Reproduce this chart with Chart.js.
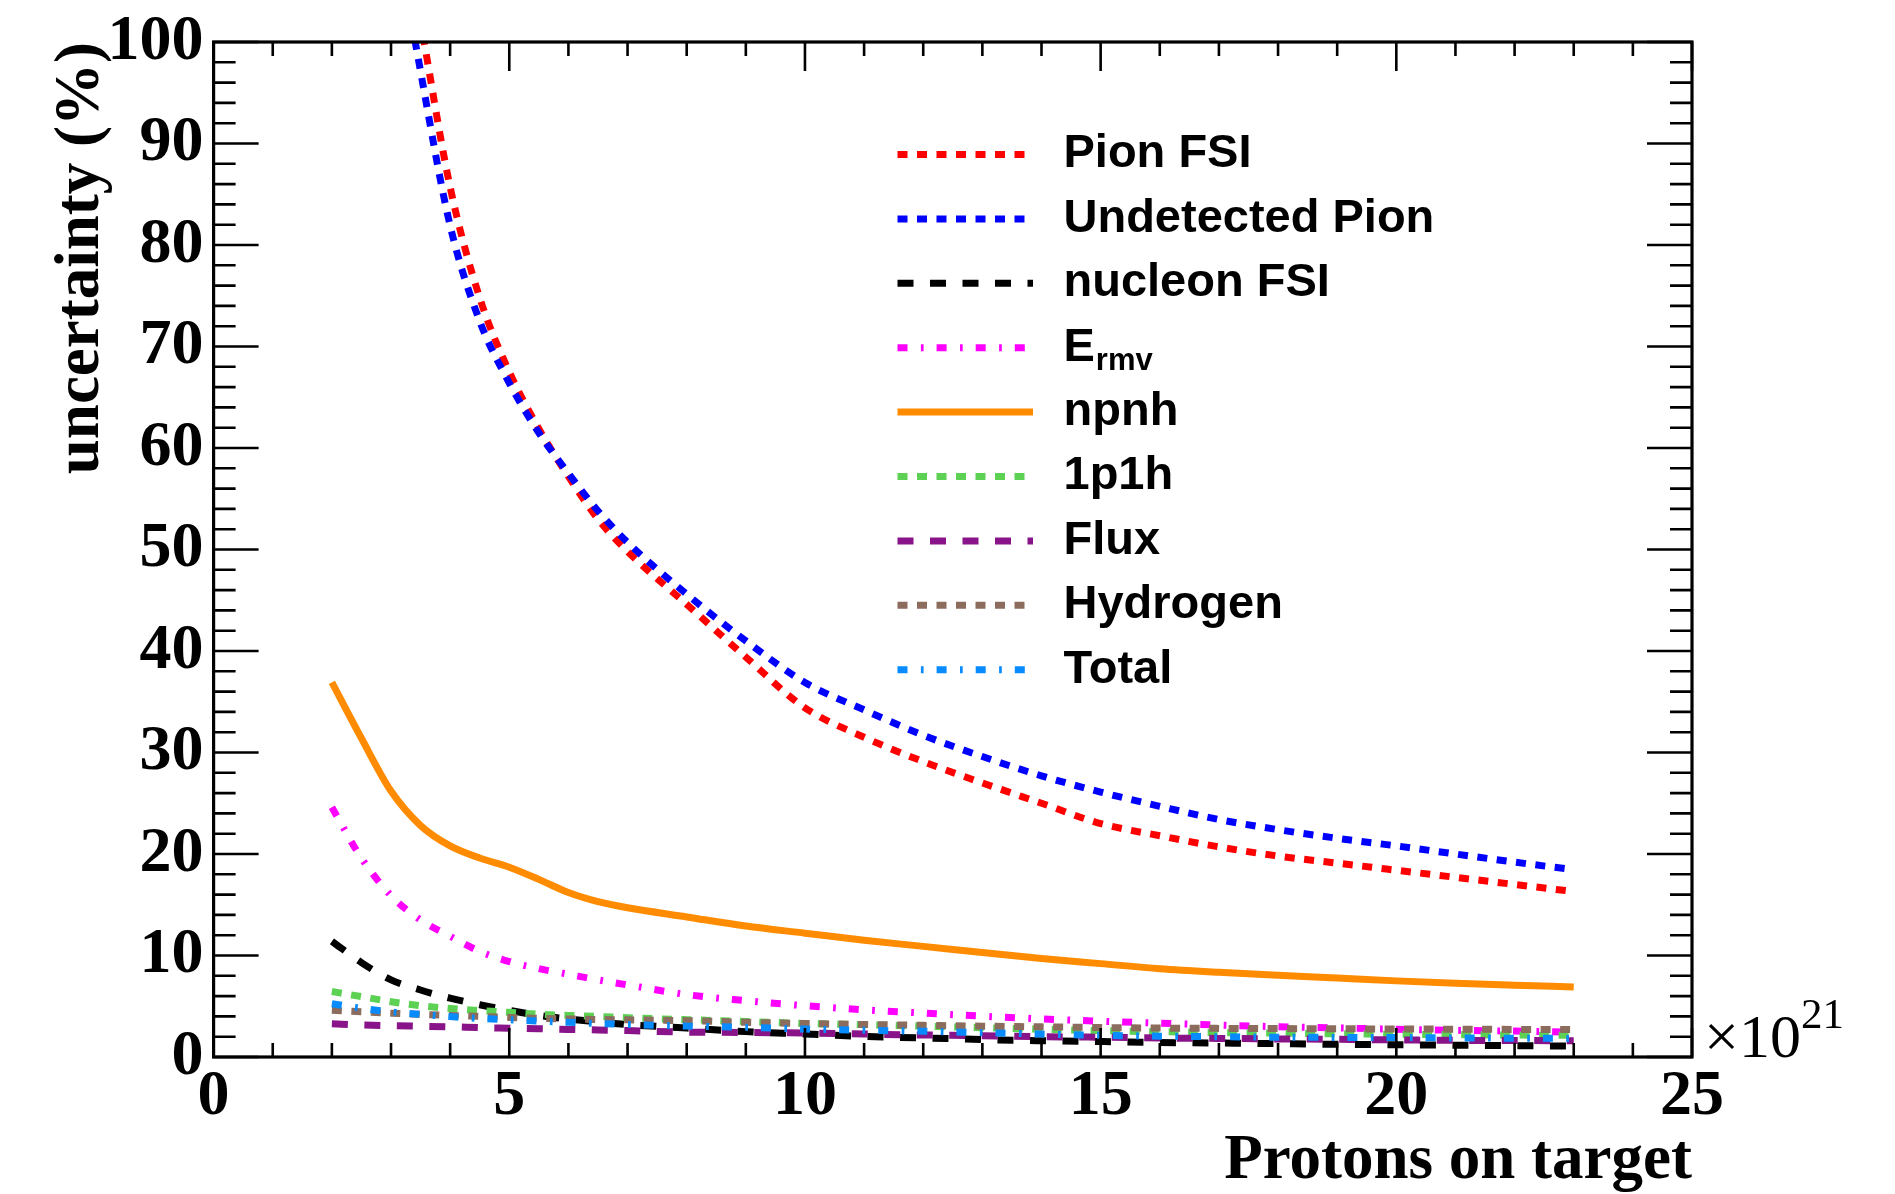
<!DOCTYPE html>
<html>
<head>
<meta charset="utf-8">
<title>Uncertainty vs protons on target</title>
<script src="https://cdn.jsdelivr.net/npm/chart.js@4.4.1/dist/chart.umd.min.js"></script>
<style>
  html, body { margin: 0; padding: 0; background: #fff; }
  #wrap { width: 1895px; height: 1194px; }
</style>
</head>
<body>
<div id="wrap"><canvas id="c" width="1895" height="1194"></canvas></div>
<script>
// Exposure in units of 1e21 protons on target
const pot = [2, 2.5, 3, 3.5, 4, 4.5, 5, 5.5, 6, 6.5, 7, 8, 9, 10, 11, 12, 13, 14, 15, 16, 17, 18, 19, 20, 21, 22, 23];

// Relative uncertainty (%) for each systematic source
const pionFSI        = [175, 142, 118, 102, 85.7, 74.8, 67.5, 61.9, 57.2, 53.0, 49.8, 44.6, 39.4, 34.4, 31.5, 29.1, 27.0, 25.0, 23.0, 21.8, 20.7, 19.8, 19.1, 18.4, 17.7, 17.0, 16.3];
const undetectedPion = [165, 134, 114, 97.1, 81.9, 72.5, 66.4, 61.5, 57.5, 53.8, 50.7, 45.6, 41.0, 36.9, 34.2, 31.7, 29.6, 27.7, 26.1, 24.7, 23.4, 22.4, 21.55, 20.8, 20.0, 19.2, 18.45];
const nucleonFSI     = [11.4, 9.3, 7.6, 6.6, 5.8, 5.15, 4.6, 4.1, 3.75, 3.45, 3.2, 2.85, 2.5, 2.27, 2.02, 1.88, 1.72, 1.6, 1.52, 1.43, 1.38, 1.32, 1.25, 1.21, 1.16, 1.12, 1.07];
const eRmv           = [24.6, 19.6, 15.9, 13.5, 11.9, 10.4, 9.4, 8.7, 8.15, 7.6, 7.1, 6.15, 5.55, 5.05, 4.65, 4.33, 4.02, 3.75, 3.52, 3.33, 3.14, 2.98, 2.86, 2.74, 2.63, 2.55, 2.45];
const npnh           = [36.9, 31.4, 26.2, 22.8, 20.8, 19.6, 18.7, 17.5, 16.2, 15.3, 14.7, 13.8, 12.9, 12.2, 11.5, 10.9, 10.3, 9.7, 9.2, 8.7, 8.35, 8.06, 7.78, 7.5, 7.27, 7.08, 6.9];
const onePoneH       = [6.45, 5.95, 5.45, 5.05, 4.78, 4.58, 4.4, 4.22, 4.1, 4.0, 3.87, 3.68, 3.5, 3.31, 3.18, 3.03, 2.88, 2.73, 2.6, 2.49, 2.41, 2.35, 2.29, 2.24, 2.2, 2.16, 2.13];
const flux           = [3.27, 3.15, 3.08, 3.03, 2.98, 2.9, 2.84, 2.78, 2.72, 2.66, 2.6, 2.45, 2.42, 2.36, 2.26, 2.17, 2.1, 2.0, 1.95, 1.87, 1.83, 1.78, 1.74, 1.68, 1.64, 1.62, 1.6];
const hydrogen       = [4.6, 4.45, 4.32, 4.2, 4.1, 4.0, 3.9, 3.82, 3.75, 3.7, 3.66, 3.58, 3.42, 3.3, 3.2, 3.12, 3.04, 2.97, 2.9, 2.85, 2.82, 2.8, 2.78, 2.76, 2.74, 2.72, 2.7];
const total          = [5.25, 4.8, 4.45, 4.2, 3.98, 3.8, 3.67, 3.54, 3.42, 3.3, 3.2, 3.05, 2.92, 2.75, 2.63, 2.54, 2.4, 2.26, 2.14, 2.05, 2.0, 1.95, 1.93, 1.92, 1.88, 1.85, 1.83];

// Legend labels ("_{...}" marks a subscript)
const seriesLabels = ['Pion FSI', 'Undetected Pion', 'nucleon FSI', 'E_{rmv}', 'npnh', '1p1h', 'Flux', 'Hydrogen', 'Total'];
const seriesValues = [pionFSI, undetectedPion, nucleonFSI, eRmv, npnh, onePoneH, flux, hydrogen, total];

// Axis ranges and tick labels
const xRange = [0, 25];
const yRange = [0, 100];
const xTickStep = 5;
const yTickStep = 10;
const axisTitleX = 'Protons on target';
const axisTitleY = 'uncertainty (%)';
const exponentBase = '\u00d710';
const exponentPower = '21';

// Line appearance per series
const DOT = [10, 9.5];
const DASH = [16, 16.5];
const DASHDOT = [10, 13.4, 2.7, 13];
const styles = [
  { color: '#ff0000', dash: DOT },
  { color: '#0000ff', dash: DOT },
  { color: '#000000', dash: DASH },
  { color: '#ff00ff', dash: DASHDOT },
  { color: '#ff8c00', dash: [] },
  { color: '#5cd154', dash: DOT },
  { color: '#891389', dash: DASH },
  { color: '#8b6c5d', dash: DOT },
  { color: '#078bff', dash: DASHDOT }
];

const datasets = seriesValues.map((vals, i) => ({
  label: seriesLabels[i],
  data: pot.map((p, k) => ({ x: p, y: vals[k] })),
  borderColor: styles[i].color,
  borderDash: styles[i].dash,
  borderWidth: 7,
  borderCapStyle: 'butt',
  pointRadius: 0,
  fill: false,
  cubicInterpolationMode: 'monotone',
  clip: 0,
  order: seriesValues.length - i
}));

const SERIF = "'Liberation Serif', 'DejaVu Serif', serif";
const SANS = "'Liberation Sans', Arial, sans-serif";

// Frame, inward ticks on all four sides, exponent label and legend
const decorations = {
  id: 'decorations',
  afterDatasetsDraw(chart) {
    const { ctx, chartArea: a, scales: { x, y } } = chart;
    ctx.save();
    ctx.strokeStyle = '#000';
    ctx.lineCap = 'butt';
    ctx.setLineDash([]);

    ctx.lineWidth = 2.6;
    ctx.beginPath();
    for (let v = yRange[0]; v <= yRange[1]; v += 2) {
      const py = y.getPixelForValue(v);
      const len = v % yTickStep === 0 ? 45 : 22;
      ctx.moveTo(a.left, py); ctx.lineTo(a.left + len, py);
      ctx.moveTo(a.right, py); ctx.lineTo(a.right - len, py);
    }
    for (let u = xRange[0]; u <= xRange[1]; u += 1) {
      const px = x.getPixelForValue(u);
      const len = u % xTickStep === 0 ? 29 : 14;
      ctx.moveTo(px, a.bottom); ctx.lineTo(px, a.bottom - len);
      ctx.moveTo(px, a.top); ctx.lineTo(px, a.top + len);
    }
    ctx.stroke();

    ctx.lineWidth = 3.2;
    ctx.strokeRect(a.left, a.top, a.right - a.left, a.bottom - a.top);

    // x10^21 multiplier next to the x axis
    ctx.fillStyle = '#000';
    ctx.textBaseline = 'alphabetic';
    ctx.textAlign = 'left';
    ctx.font = `62px ${SERIF}`;
    const ex = a.right + 12;
    ctx.fillText(exponentBase, ex, a.bottom);
    const w = ctx.measureText(exponentBase).width;
    ctx.font = `43px ${SERIF}`;
    ctx.fillText(exponentPower, ex + w, a.bottom - 29);

    // Legend
    const x0 = 897.5, x1 = 1033, tx = 1063.5, row0 = 154.5, step = 64.4;
    chart.data.datasets.forEach((ds, i) => {
      const yy = row0 + i * step;
      ctx.save();
      ctx.strokeStyle = ds.borderColor;
      ctx.lineWidth = ds.borderWidth;
      ctx.setLineDash(ds.borderDash || []);
      ctx.beginPath();
      ctx.moveTo(x0, yy);
      ctx.lineTo(x1, yy);
      ctx.stroke();
      ctx.restore();

      ctx.fillStyle = '#000';
      ctx.textBaseline = 'middle';
      ctx.textAlign = 'left';
      const m = /^(.*)_\{(.*)\}$/.exec(ds.label);
      ctx.font = `bold 47px ${SANS}`;
      if (m) {
        ctx.fillText(m[1], tx, yy);
        const bw = ctx.measureText(m[1]).width;
        ctx.font = `bold 31px ${SANS}`;
        ctx.fillText(m[2], tx + bw + 1, yy + 14);
      } else {
        ctx.fillText(ds.label, tx, yy);
      }
    });
    ctx.restore();
  }
};

new Chart(document.getElementById('c'), {
  type: 'line',
  data: { datasets },
  plugins: [decorations],
  options: {
    responsive: false,
    animation: false,
    devicePixelRatio: 1,
    layout: { padding: { top: 40, right: 203, left: 0, bottom: 0 } },
    plugins: { legend: { display: false }, tooltip: { enabled: false } },
    scales: {
      x: {
        type: 'linear',
        min: xRange[0],
        max: xRange[1],
        grid: { display: false, drawTicks: false },
        border: { display: false },
        ticks: {
          stepSize: xTickStep,
          maxRotation: 0,
          autoSkip: false,
          padding: 8,
          color: '#000',
          font: { family: SERIF, size: 64, weight: 'bold', lineHeight: 1 }
        },
        title: {
          display: true,
          text: axisTitleX,
          align: 'end',
          color: '#000',
          padding: { top: 0, bottom: 1 },
          font: { family: SERIF, size: 63, weight: 'bold', lineHeight: 1 }
        },
        afterFit(s) { s.height = 137; }
      },
      y: {
        type: 'linear',
        min: yRange[0],
        max: yRange[1],
        grid: { display: false, drawTicks: false },
        border: { display: false },
        ticks: {
          stepSize: yTickStep,
          autoSkip: false,
          padding: 10,
          color: '#000',
          font: { family: SERIF, size: 64, weight: 'bold', lineHeight: 1 }
        },
        title: {
          display: true,
          text: axisTitleY,
          align: 'end',
          color: '#000',
          padding: { top: 50, bottom: 0 },
          font: { family: SERIF, size: 63, weight: 'bold', lineHeight: 1 }
        },
        afterFit(s) { s.width = 213.6; }
      }
    }
  }
});
</script>
</body>
</html>
